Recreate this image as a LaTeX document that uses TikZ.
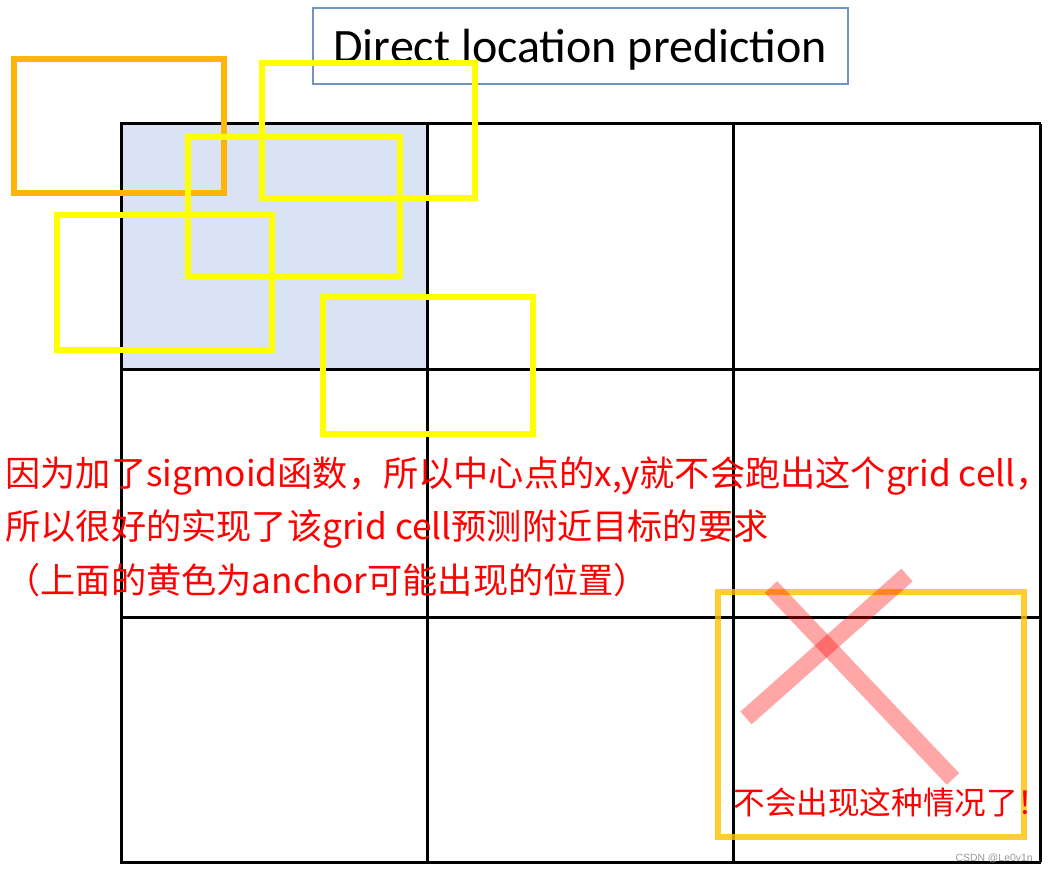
\documentclass[tikz,border=0pt]{standalone}
\usepackage{fontspec}
\setmainfont{Carlito}
\newfontfamily\cjk{Noto Sans CJK SC}
\newfontfamily\wm{Liberation Sans}
\definecolor{gridfill}{HTML}{DAE3F3}
\definecolor{titleedge}{HTML}{7094C4}
\definecolor{anchorY}{HTML}{FFFF00}
\definecolor{anchorO}{HTML}{FFB40A}
\definecolor{anchorG}{HTML}{FFC000}
\begin{document}
\begin{tikzpicture}[x=0.5pt,y=-0.5pt,
  gridline/.style={black,line width=1.5pt},
  ybox/.style={draw=anchorY,line width=3pt},
  obox/.style={draw=anchorO,line width=2.6pt},
  gbox/.style={draw=anchorG,line width=2.6pt,draw opacity=0.8},
  xstroke/.style={red,line width=8.5pt,draw opacity=0.35},
  redtext/.style={text=red,inner sep=0pt,anchor=base west,font=\cjk\fontsize{17.6pt}{21pt}\selectfont},
]
\useasboundingbox (0,0) rectangle (1048,870);
% shaded cell
\fill[gridfill] (121,124) rectangle (427,370);
% grid
\foreach \x in {121,427,733,1040} \draw[gridline] (\x,124) -- (\x,862);
\foreach \y in {124,370,617,862} \draw[gridline] (120.25,\y) -- (1040.75,\y);
% title
\node[draw=titleedge,line width=0.8pt,minimum width=267.5pt,minimum height=38pt,inner sep=0pt] (title) at (580.5,46) {};
\node[anchor=base west,inner sep=0pt,font=\fontsize{24pt}{28pt}\selectfont] (titletext) at (333,63) {Direct location prediction};
% anchors
\draw[obox] (14,59) rectangle (224,193);
\draw[ybox] (262,63) rectangle (475,198);
\draw[ybox] (188,137) rectangle (400,276);
\draw[ybox] (57,215) rectangle (272,350);
\draw[ybox] (323,297) rectangle (533,434);
% bottom-right box and cross
\draw[gbox] (718,592) rectangle (1024,837);
\coordinate (xa1) at (771,587);
\coordinate (xa2) at (953,779);
\coordinate (xb1) at (907,575);
\coordinate (xb2) at (746,718);
\draw[xstroke] (xa1) -- (xa2);
\draw[xstroke] (xb1) -- (xb2);
% texts
\node[redtext] (l1) at (5,487) {因为加了sigmoid函数，所以中心点的x,y就不会跑出这个grid cell，};
\node[redtext] (l2) at (5,539) {所以很好的实现了该grid cell预测附近目标的要求};
\node[redtext] (l3) at (5,594) {（上面的黄色为anchor可能出现的位置）};
\node[text=red,inner sep=0pt,anchor=base west,font=\cjk\fontsize{15.8pt}{18pt}\selectfont] (never) at (733,814) {不会出现这种情况了！};
\node[text=black!40,inner sep=0pt,anchor=base east,font=\wm\fontsize{5.2pt}{6pt}\selectfont] (wmk) at (1033,861) {CSDN @Le0v1n};
\end{tikzpicture}
\end{document}
